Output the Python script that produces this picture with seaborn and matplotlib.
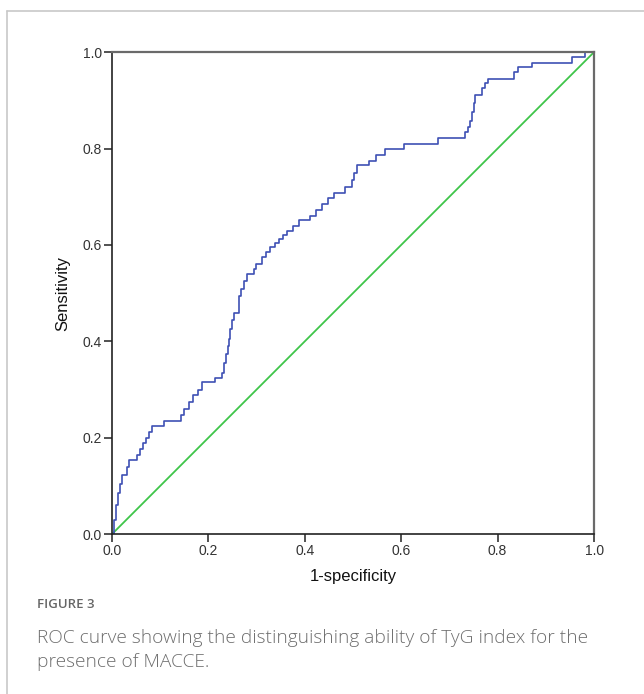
import matplotlib
matplotlib.use("Agg")
import matplotlib.pyplot as plt
import seaborn as sns
import pandas as pd
from matplotlib.lines import Line2D

# ROC curve (1-specificity, sensitivity), step vertices
fpr = [0.000, 0.004, 0.008, 0.012, 0.017, 0.022, 0.032, 0.036, 0.053, 0.058,
       0.065, 0.071, 0.077, 0.084, 0.108, 0.143, 0.150, 0.160, 0.168, 0.178,
       0.188, 0.215, 0.229, 0.233, 0.237, 0.241, 0.243, 0.246, 0.250, 0.253,
       0.263, 0.267, 0.274, 0.281, 0.295, 0.300, 0.312, 0.320, 0.329, 0.338,
       0.346, 0.355, 0.364, 0.376, 0.388, 0.412, 0.424, 0.436, 0.448, 0.460,
       0.484, 0.498, 0.503, 0.509, 0.533, 0.547, 0.567, 0.605, 0.676, 0.733,
       0.738, 0.743, 0.747, 0.750, 0.754, 0.767, 0.774, 0.781, 0.833, 0.843,
       0.871, 0.954, 0.981, 1.000]
tpr = [0.000, 0.030, 0.060, 0.085, 0.105, 0.124, 0.140, 0.155, 0.165, 0.178,
       0.190, 0.200, 0.213, 0.225, 0.236, 0.248, 0.260, 0.275, 0.288, 0.300,
       0.315, 0.325, 0.335, 0.355, 0.375, 0.390, 0.405, 0.425, 0.445, 0.460,
       0.495, 0.509, 0.526, 0.540, 0.550, 0.560, 0.575, 0.585, 0.595, 0.605,
       0.612, 0.620, 0.630, 0.640, 0.651, 0.660, 0.672, 0.684, 0.697, 0.707,
       0.720, 0.735, 0.750, 0.765, 0.775, 0.787, 0.800, 0.810, 0.822, 0.835,
       0.845, 0.858, 0.875, 0.895, 0.911, 0.925, 0.935, 0.945, 0.958, 0.968,
       0.978, 0.990, 1.000, 1.000]

# reference line
ref_x = [0.0, 1.0]
ref_y = [0.0, 1.0]

ticks = [0.0, 0.2, 0.4, 0.6, 0.8, 1.0]
tick_labels = ["0.0", "0.2", "0.4", "0.6", "0.8", "1.0"]

caption_head = "FIGURE 3"
caption_lines = ["ROC curve showing the distinguishing ability of TyG index for the",
                 "presence of MACCE."]

sns.set_style("white")
plt.rcParams["font.family"] = ["Liberation Sans", "DejaVu Sans"]

fig = plt.figure(figsize=(6.44, 6.94), dpi=100)
ax = fig.add_axes([0.1735, 0.230, 0.749, 0.695])

roc = pd.DataFrame({"fpr": fpr, "tpr": tpr})
ref = pd.DataFrame({"x": ref_x, "y": ref_y})

sns.lineplot(data=ref, x="x", y="y", ax=ax, color="#3fc54a", linewidth=1.3,
             estimator=None, sort=False)
sns.lineplot(data=roc, x="fpr", y="tpr", ax=ax, color="#3e50b4", linewidth=1.2,
             estimator=None, sort=False, drawstyle="steps-post")

ax.set_xlim(0, 1)
ax.set_ylim(0, 1)
ax.set_xticks(ticks)
ax.set_xticklabels(tick_labels)
ax.set_yticks(ticks)
ax.set_yticklabels(tick_labels)
ax.tick_params(axis="both", direction="out", length=6, width=1.1, color="#222222",
               labelsize=10, labelcolor="#333333", pad=1, bottom=True, left=True)

for side in ["left", "bottom"]:
    ax.spines[side].set_color("#222222")
    ax.spines[side].set_linewidth(1.2)
for side in ["top", "right"]:
    ax.spines[side].set_color("#6a6a6a")
    ax.spines[side].set_linewidth(1.6)

ax.set_xlabel("1-specificity", fontsize=12, color="#111111", labelpad=8)
ax.set_ylabel("Sensitivity", fontsize=12, color="#111111", labelpad=9)

# page frame
fig.add_artist(Line2D([7 / 644, 7 / 644], [0, 1 - 11 / 694], color="#c8c8c8", linewidth=1.2))
fig.add_artist(Line2D([7 / 644, 1], [1 - 11 / 694, 1 - 11 / 694], color="#c8c8c8", linewidth=1.2))

fig.text(37 / 644, 1 - 604 / 694, caption_head, fontsize=9.5, color="#666666",
         family=["Open Sans", "DejaVu Sans"], va="center", ha="left", fontweight="semibold")
fig.text(37 / 644, 1 - 638 / 694, caption_lines[0], fontsize=13.8, color="#6e6e6e",
         family=["Open Sans", "DejaVu Sans"], va="center", ha="left", fontweight="light")
fig.text(37 / 644, 1 - 662 / 694, caption_lines[1], fontsize=13.8, color="#6e6e6e",
         family=["Open Sans", "DejaVu Sans"], va="center", ha="left", fontweight="light")

fig.savefig("out.png", dpi=100)
